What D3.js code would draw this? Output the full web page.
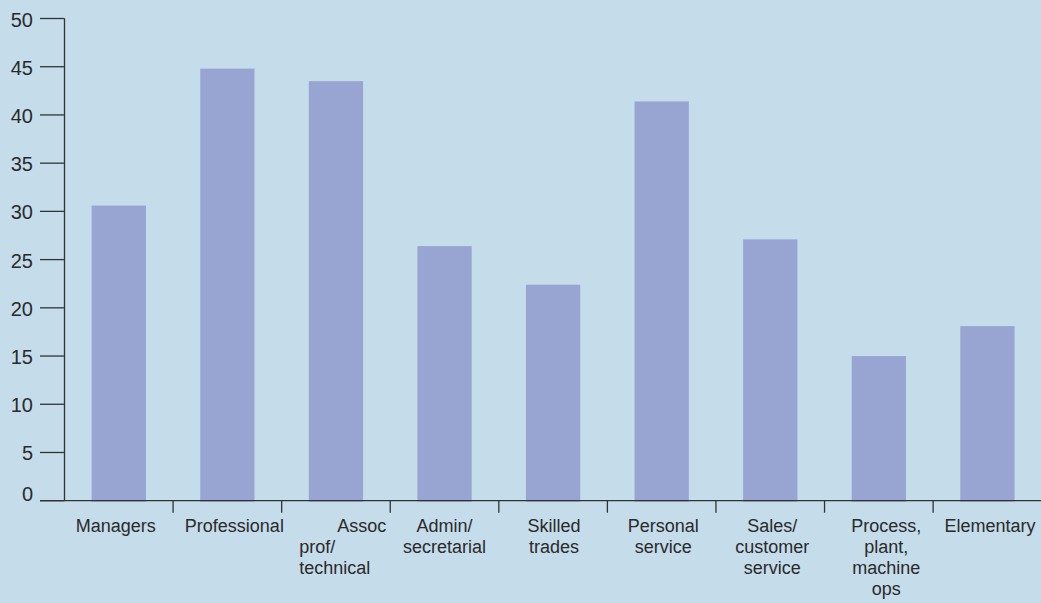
<!DOCTYPE html>
<html>
<head>
<meta charset="utf-8">
<script src="https://cdn.jsdelivr.net/npm/d3@7/dist/d3.min.js"></script>
<style>
  html, body { margin: 0; padding: 0; background: #c5dcea; }
  svg { display: block; }
  text { font-family: "Liberation Sans", Arial, sans-serif; fill: #2a2a2a; }
</style>
</head>
<body>
<svg id="chart" width="1041" height="603"></svg>
<script>
// Occupation groups and their values
const categories = [
  "Managers", "Professional", "Assoc prof/technical", "Admin/secretarial",
  "Skilled trades", "Personal service", "Sales/customer service",
  "Process, plant, machine ops", "Elementary"
];
const labelLines = [
  ["Managers"], ["Professional"], ["Assoc", "prof/", "technical"],
  ["Admin/", "secretarial"], ["Skilled", "trades"], ["Personal", "service"],
  ["Sales/", "customer", "service"], ["Process,", "plant,", "machine", "ops"],
  ["Elementary"]
];
const values = [30.6, 44.8, 43.5, 26.4, 22.4, 41.4, 27.1, 15.0, 18.1];
const yTicks = [0, 5, 10, 15, 20, 25, 30, 35, 40, 45, 50];

const width = 1041, height = 603;
const axisColor = "#333";
const barColor = "#98a5d2";
// small horizontal nudges for the wrapped category labels (px)
const labelNudge = [-3, 7, 0, 0, 1, 1.5, 2, 7.5, 2.5];

const svg = d3.select("#chart");

const x = d3.scaleBand()
  .domain(categories)
  .range([64.5, 1041.7])
  .paddingInner(0.5)
  .paddingOuter(0.25);
const step = x.step();

const y = d3.scaleLinear().domain([0, 50]).range([500.7, 18.5]);

// Bars
svg.append("g")
  .selectAll("rect")
  .data(values)
  .join("rect")
  .attr("x", (d, i) => x(categories[i]))
  .attr("width", x.bandwidth())
  .attr("y", d => y(d))
  .attr("height", d => y(0) - y(d) + 1)
  .attr("fill", barColor);

// Y axis: vertical line, ticks and labels
const yAxis = svg.append("g");
yAxis.append("line")
  .attr("x1", 64.5).attr("x2", 64.5)
  .attr("y1", y(50)).attr("y2", y(0))
  .attr("stroke", axisColor).attr("stroke-width", 1.3);
yAxis.selectAll("line.tick")
  .data(yTicks)
  .join("line")
  .attr("class", "tick")
  .attr("x1", 40).attr("x2", 64.5)
  .attr("y1", d => y(d)).attr("y2", d => y(d))
  .attr("stroke", axisColor).attr("stroke-width", 1.3);
yAxis.selectAll("text")
  .data(yTicks)
  .join("text")
  .attr("x", 33)
  .attr("y", d => y(d) + (d === 0 ? -7 : 1))
  .attr("dy", "0.35em")
  .attr("text-anchor", "end")
  .attr("font-size", 20)
  .text(d => d);

// X axis: baseline and category separators
const xAxis = svg.append("g");
xAxis.append("line")
  .attr("x1", 40).attr("x2", width)
  .attr("y1", y(0)).attr("y2", y(0))
  .attr("stroke", axisColor).attr("stroke-width", 1.3);
const x0 = x.range()[0];
xAxis.selectAll("line.sep")
  .data(d3.range(1, categories.length))
  .join("line")
  .attr("class", "sep")
  .attr("x1", i => x0 + i * step).attr("x2", i => x0 + i * step)
  .attr("y1", y(0)).attr("y2", y(0) + 12)
  .attr("stroke", axisColor).attr("stroke-width", 1.3);

// Category labels
const lineHeight = 21;
const labels = xAxis.selectAll("g.label")
  .data(categories)
  .join("g")
  .attr("class", "label");
labels.each(function (c, i) {
  const g = d3.select(this);
  const left = x0 + i * step;
  const right = left + step;
  const center = x(c) + x.bandwidth() / 2 + labelNudge[i];
  const lines = labelLines[i];
  const split = lines[0] === "Assoc";
  lines.forEach((ln, k) => {
    const t = g.append("text")
      .attr("y", 532 + k * lineHeight)
      .attr("font-size", 18)
      .text(ln);
    if (split) {
      if (k === 0) t.attr("x", right - 4).attr("text-anchor", "end");
      else t.attr("x", left + 17.5).attr("text-anchor", "start");
    } else {
      t.attr("x", center).attr("text-anchor", "middle");
    }
  });
});
</script>
</body>
</html>
